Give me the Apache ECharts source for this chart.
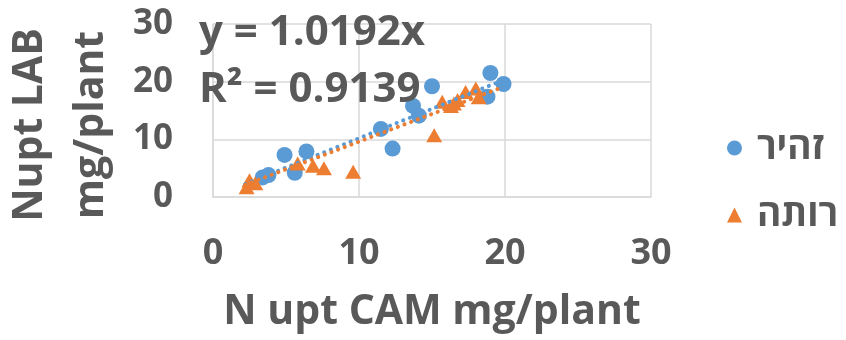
<!DOCTYPE html>
<html>
<head>
<meta charset="utf-8">
<script src="https://cdn.jsdelivr.net/npm/echarts@6/dist/echarts.min.js"></script>
<style>
  html, body { margin: 0; padding: 0; background: #fff; }
  #chart { width: 846px; height: 340px; }
</style>
</head>
<body>
<div id="chart"></div>
<script>
// N uptake: CAM method (x) vs LAB method (y), mg per plant
const seriesNames = ['זהיר', 'רותה'];

const zahirX = [19.0, 19.9, 15.0, 18.8, 13.7, 14.1, 11.5, 12.3, 4.9, 6.4, 5.6, 3.8, 3.4];
const zahirY = [21.5, 19.6, 19.2, 17.4, 15.8, 14.1, 11.8, 8.4, 7.3, 7.9, 4.2, 3.8, 3.4];

const rutaX = [2.5, 2.3, 2.9, 5.8, 6.85, 7.6, 9.6, 15.15, 15.7, 16.3, 16.5, 16.75, 17.3, 18.0, 18.2];
const rutaY = [2.9, 1.7, 2.4, 5.8, 5.4, 5.0, 4.4, 10.7, 16.5, 15.8, 16.2, 16.8, 18.2, 18.8, 17.3];

// Linear trendlines forced through the origin
const zahirSlope = 1.0192;
const zahirR2 = 0.9139;
const rutaSlope = 0.96;
const trendRange = [2.2, 19.7];

const xTicks = { min: 0, max: 30, interval: 10 };
const yTicks = { min: 0, max: 30, interval: 10 };

const FONT = '"Open Sans", "DejaVu Sans", sans-serif';
const TEXT = '#595959';
const GRID = '#d9d9d9';
const BLUE = '#5B9BD5';
const ORANGE = '#ED7D31';

const pairs = (xs, ys) => xs.map((x, i) => [x, ys[i]]);
const trend = (slope) => trendRange.map(x => [x, slope * x]);

const chart = echarts.init(document.getElementById('chart'), null, { renderer: 'canvas' });

chart.setOption({
  animation: false,
  backgroundColor: '#fff',
  grid: { left: 213, right: 195, top: 24, bottom: 143, containLabel: false },
  xAxis: {
    type: 'value',
    min: xTicks.min, max: xTicks.max, interval: xTicks.interval,
    axisLine: { show: true, lineStyle: { color: GRID, width: 1.5 } },
    axisTick: { show: false },
    splitLine: { show: true, lineStyle: { color: GRID, width: 1.5 } },
    axisLabel: { margin: 39, color: TEXT, fontFamily: FONT, fontWeight: 'bold', fontSize: 36 },
    name: 'N upt CAM mg/plant',
    nameLocation: 'middle',
    nameGap: 95,
    nameTextStyle: { color: TEXT, fontFamily: FONT, fontWeight: 'bold', fontSize: 41 }
  },
  yAxis: {
    type: 'value',
    min: yTicks.min, max: yTicks.max, interval: yTicks.interval,
    axisLine: { show: true, lineStyle: { color: GRID, width: 1.5 } },
    axisTick: { show: false },
    splitLine: { show: true, lineStyle: { color: GRID, width: 1.5 } },
    axisLabel: { margin: 40, color: TEXT, fontFamily: FONT, fontWeight: 'bold', fontSize: 35 }
  },
  legend: {
    orient: 'vertical',
    left: 722,
    top: 123,
    itemWidth: 15,
    itemHeight: 15,
    itemGap: 27,
    data: [
      { name: seriesNames[0], icon: 'circle' },
      { name: seriesNames[1], icon: 'triangle' }
    ],
    textStyle: { color: TEXT, fontFamily: FONT, fontWeight: 'bold', fontSize: 37, lineHeight: 40, padding: [0, 0, 0, 10] }
  },
  graphic: [
    {
      type: 'text', z: 100,
      x: 61, y: 125, rotation: Math.PI / 2,
      style: {
        text: 'Nupt LAB\nmg/plant',
        fill: TEXT, font: 'bold 41px ' + FONT,
        align: 'center', verticalAlign: 'middle', lineHeight: 61
      }
    },
    {
      type: 'text', z: 100,
      x: 199, y: 33,
      style: { text: 'y = ' + zahirSlope.toFixed(4) + 'x', fill: TEXT, font: 'bold 42px ' + FONT, align: 'left', verticalAlign: 'middle' }
    },
    {
      type: 'text', z: 100,
      x: 199, y: 90,
      style: { text: 'R² = ' + zahirR2.toFixed(4), fill: TEXT, font: 'bold 42px ' + FONT, align: 'left', verticalAlign: 'middle' }
    }
  ],
  series: [
    {
      name: seriesNames[0], type: 'scatter', symbol: 'circle', symbolSize: 16,
      itemStyle: { color: BLUE, opacity: 1 },
      data: pairs(zahirX, zahirY), z: 2
    },
    {
      name: seriesNames[1], type: 'scatter', symbol: 'triangle', symbolSize: [16, 14],
      itemStyle: { color: ORANGE, opacity: 1 },
      data: pairs(rutaX, rutaY), z: 3
    },
    {
      name: 'trend-zahir', type: 'line', data: trend(zahirSlope),
      symbol: 'none', silent: true, z: 4,
      lineStyle: { color: BLUE, width: 4, type: [0.1, 7], cap: 'round' }
    },
    {
      name: 'trend-ruta', type: 'line', data: trend(rutaSlope),
      symbol: 'none', silent: true, z: 4,
      lineStyle: { color: ORANGE, width: 4, type: [0.1, 7], cap: 'round' }
    }
  ]
});
</script>
</body>
</html>
